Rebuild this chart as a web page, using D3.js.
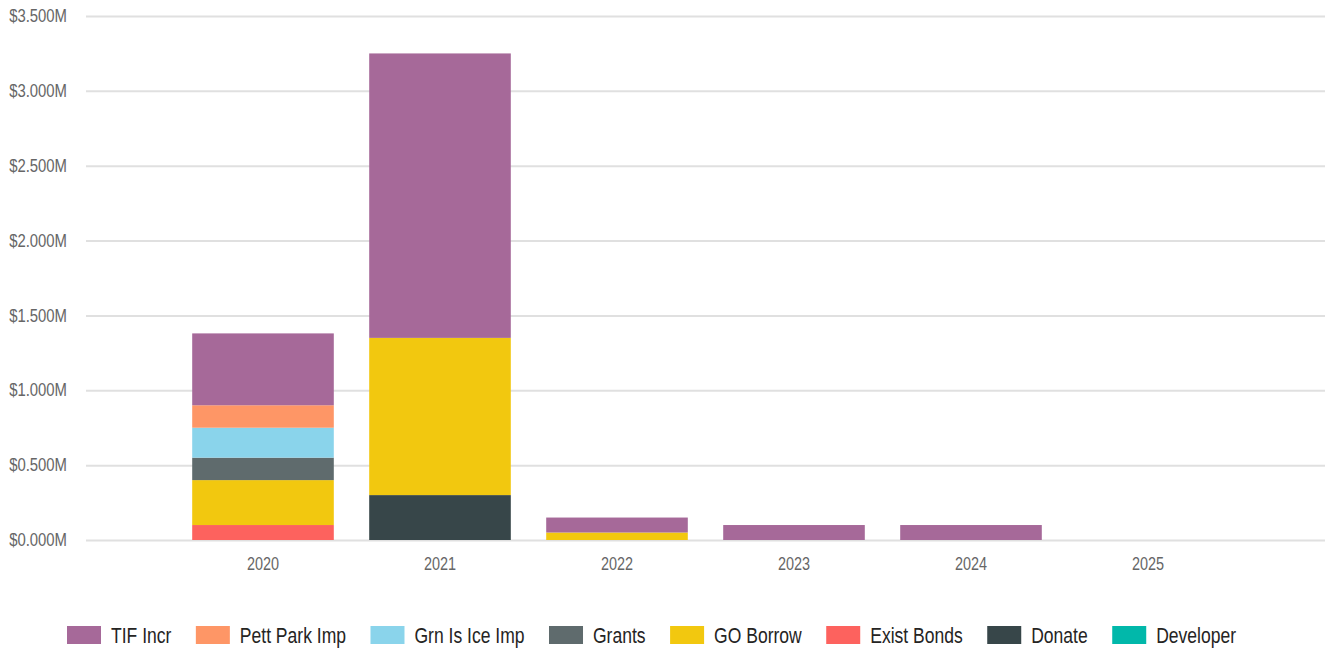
<!DOCTYPE html>
<html>
<head>
<meta charset="utf-8">
<script src="https://cdn.jsdelivr.net/npm/d3@7"></script>
<style>
  html, body { margin: 0; padding: 0; background: #fff; }
  svg { display: block; }
  text { font-family: "Liberation Sans", Arial, sans-serif; }
</style>
</head>
<body>
<svg id="chart" width="1330" height="650"></svg>
<script>
// ---- Data ----
const years = ["2020", "2021", "2022", "2023", "2024", "2025"];
const seriesNames = ["Exist Bonds", "GO Borrow", "Grants", "Grn Is Ice Imp", "Pett Park Imp", "TIF Incr", "Donate", "Developer"];
const legendOrder = ["TIF Incr", "Pett Park Imp", "Grn Is Ice Imp", "Grants", "GO Borrow", "Exist Bonds", "Donate", "Developer"];
const colors = ["#FD625E", "#F2C80F", "#5F6B6D", "#8AD4EB", "#FE9666", "#A66999", "#374649", "#01B8AA"];
// values in $M, per year (same order as years)
const existBonds  = [0.10, 0,    0,    0,    0,    0];
const goBorrow    = [0.30, 1.05, 0.05, 0,    0,    0];
const grants      = [0.15, 0,    0,    0,    0,    0];
const grnIsIceImp = [0.20, 0,    0,    0,    0,    0];
const pettParkImp = [0.15, 0,    0,    0,    0,    0];
const tifIncr     = [0.48, 1.90, 0.10, 0.10, 0.10, 0];
const donate      = [0,    0.30, 0,    0,    0,    0];
const developer   = [0,    0,    0,    0,    0,    0];
const yTicks = [0, 0.5, 1.0, 1.5, 2.0, 2.5, 3.0, 3.5];

// ---- Build table ----
const stackKeys = ["Donate", "Exist Bonds", "GO Borrow", "Grants", "Grn Is Ice Imp", "Pett Park Imp", "TIF Incr", "Developer"];
const seriesData = {
  "Exist Bonds": existBonds, "GO Borrow": goBorrow, "Grants": grants,
  "Grn Is Ice Imp": grnIsIceImp, "Pett Park Imp": pettParkImp, "TIF Incr": tifIncr,
  "Donate": donate, "Developer": developer
};
const colorOf = {};
seriesNames.forEach((n, i) => colorOf[n] = colors[i]);
const table = years.map((y, i) => {
  const row = { year: y };
  stackKeys.forEach(k => row[k] = seriesData[k][i]);
  return row;
});

// ---- Scales ----
const svg = d3.select("#chart");
const plotLeft = 86, plotRight = 1325, plotTop = 16, plotBottom = 540;
const x = d3.scaleBand().domain(years).range([plotLeft, plotRight]).paddingInner(0.2).paddingOuter(0.6);
const y = d3.scaleLinear().domain([0, 3.5]).range([plotBottom, plotTop]);

// condensed look: horizontally squeezed text
const KY = 0.85, KX = 0.78, KL = 0.815;

// ---- Grid + y labels ----
const yAxis = d3.axisLeft(y).tickValues(yTicks).tickSize(-(plotRight - plotLeft)).tickPadding(19)
  .tickFormat(d => "$" + d3.format(".3f")(d) + "M");
const gy = svg.append("g").attr("transform", `translate(${plotLeft},0)`).call(yAxis);
gy.select(".domain").remove();
gy.selectAll(".tick line").attr("stroke", "#e0e0e0").attr("stroke-width", 2);
gy.selectAll(".tick text").attr("fill", "#666666").style("font-size", "17.5px")
  .attr("x", -19 / KY).attr("transform", `scale(${KY},1)`);

// ---- Bars ----
const stacked = d3.stack().keys(stackKeys)(table);
svg.append("g").selectAll("g").data(stacked).join("g")
  .attr("fill", d => colorOf[d.key])
  .selectAll("rect").data(d => d.filter(p => p[1] - p[0] > 0)).join("rect")
  .attr("x", d => x(d.data.year))
  .attr("width", x.bandwidth())
  .attr("y", d => y(d[1]))
  .attr("height", d => y(d[0]) - y(d[1]));

// ---- X axis labels ----
const xAxis = d3.axisBottom(x).tickSize(0).tickPadding(17);
const gx = svg.append("g").attr("transform", `translate(0,${plotBottom})`).call(xAxis);
gx.select(".domain").remove();
gx.selectAll(".tick text").attr("fill", "#666666").style("font-size", "18.5px")
  .attr("transform", `scale(${KX},1)`);

// ---- Legend ----
const legend = svg.append("g").attr("transform", "translate(67,626)");
let lx = 0;
legendOrder.forEach(name => {
  const g = legend.append("g").attr("transform", `translate(${lx},0)`);
  g.append("rect").attr("width", 34).attr("height", 18).attr("fill", colorOf[name]);
  const t = g.append("text").attr("x", 44 / KL).attr("y", 9).attr("dy", "0.36em")
    .attr("transform", `scale(${KL},1)`)
    .attr("fill", "#252423").style("font-size", "21.5px").text(name);
  lx += 44 + t.node().getComputedTextLength() * KL + 24.5;
});
</script>
</body>
</html>
